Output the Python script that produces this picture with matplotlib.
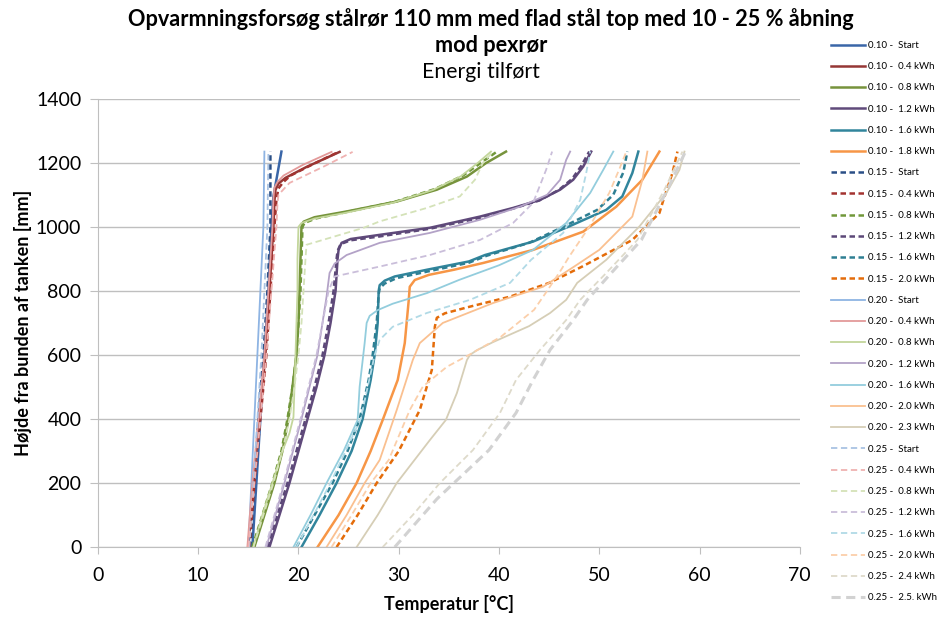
import matplotlib
matplotlib.use("Agg")
import matplotlib.pyplot as plt

plt.rcParams['font.family'] = ['Lato', 'DejaVu Sans']

# --- måledata: højde [mm] og temperatur [°C] pr. kurve ---
labels = [
    "0.10 -  Start", "0.10 -  0.4 kWh", "0.10 -  0.8 kWh", "0.10 -  1.2 kWh",
    "0.10 -  1.6 kWh", "0.10 -  1.8 kWh",
    "0.15 -  Start", "0.15 -  0.4 kWh", "0.15 -  0.8 kWh", "0.15 -  1.2 kWh",
    "0.15 -  1.6 kWh", "0.15 -  2.0 kWh",
    "0.20 -  Start", "0.20 -  0.4 kWh", "0.20 -  0.8 kWh", "0.20 -  1.2 kWh",
    "0.20 -  1.6 kWh", "0.20 -  2.0 kWh", "0.20 -  2.3 kWh",
    "0.25 -  Start", "0.25 -  0.4 kWh", "0.25 -  0.8 kWh", "0.25 -  1.2 kWh",
    "0.25 -  1.6 kWh", "0.25 -  2.0 kWh", "0.25 -  2.4 kWh", "0.25 -  2.5. kWh",
]

# 10 % åbning
h10_start = [0, 200, 400, 600, 800, 1000, 1095, 1235]
t10_start = [15.4, 15.8, 16.2, 16.6, 17.0, 17.3, 17.5, 18.3]
h10_04 = [0, 200, 400, 600, 800, 1000, 1080, 1115, 1135, 1153, 1187, 1234]
t10_04 = [15.0, 15.5, 16.1, 16.7, 17.1, 17.5, 17.6, 17.7, 18.0, 18.7, 20.8, 24.1]
h10_08 = [0, 100, 200, 300, 400, 500, 600, 700, 800, 900, 1000, 1016, 1030, 1048, 1079, 1116, 1157, 1199, 1235]
t10_08 = [15.6, 16.6, 17.6, 18.4, 19.0, 19.4, 19.8, 20.0, 20.1, 20.2, 20.3, 20.5, 21.6, 24.8, 29.8, 33.8, 36.8, 38.7, 40.7]
h10_12 = [0, 100, 200, 300, 400, 500, 600, 700, 800, 900, 928, 950, 962, 975, 997, 1032, 1059, 1084, 1116, 1147, 1188, 1235]
t10_12 = [17.1, 18.1, 19.1, 20.0, 20.9, 21.8, 22.6, 23.2, 23.7, 23.9, 24.0, 24.3, 25.2, 28.1, 33.1, 38.1, 41.4, 44.1, 46.1, 47.4, 48.4, 49.2]
h10_16 = [0, 100, 200, 300, 400, 522, 600, 700, 800, 818, 832, 845, 866, 892, 912, 954, 1000, 1053, 1095, 1168, 1235]
t10_16 = [20.3, 22.1, 23.8, 25.3, 26.4, 27.2, 27.6, 27.9, 28.0, 28.1, 28.6, 29.6, 32.8, 37.0, 38.6, 43.4, 46.9, 50.7, 52.3, 53.3, 53.9]
h10_18 = [0, 100, 200, 300, 397, 522, 637, 772, 813, 834, 850, 866, 887, 928, 985, 1063, 1147, 1235]
t10_18 = [21.9, 24.0, 25.8, 27.2, 28.4, 29.9, 30.6, 31.0, 31.1, 31.6, 33.0, 35.5, 38.4, 43.4, 48.4, 51.7, 54.3, 56.0]

# 15 % åbning
h15_start = [0, 200, 400, 600, 800, 1000, 1235]
t15_start = [15.2, 15.6, 16.0, 16.5, 16.9, 17.2, 17.2]
h15_04 = [0, 200, 400, 600, 800, 1000, 1085, 1120, 1140, 1160, 1195, 1234]
t15_04 = [15.1, 15.6, 16.2, 16.8, 17.2, 17.6, 17.8, 18.0, 18.5, 19.2, 21.4, 24.0]
h15_08 = [0, 100, 200, 300, 400, 500, 600, 700, 800, 900, 1000, 1012, 1026, 1045, 1078, 1118, 1160, 1200, 1235]
t15_08 = [15.4, 16.4, 17.4, 18.3, 18.9, 19.4, 19.8, 20.0, 20.2, 20.3, 20.4, 20.6, 21.7, 24.6, 29.6, 33.6, 36.4, 38.2, 39.8]
h15_12 = [0, 100, 200, 300, 400, 500, 600, 700, 800, 900, 925, 946, 958, 970, 994, 1028, 1057, 1082, 1116, 1150, 1190, 1235]
t15_12 = [16.9, 17.9, 18.9, 19.8, 20.7, 21.6, 22.4, 23.0, 23.5, 23.8, 23.9, 24.2, 25.2, 28.1, 33.1, 38.1, 41.4, 44.0, 46.0, 47.3, 48.2, 49.0]
h15_16 = [0, 100, 200, 300, 400, 522, 600, 700, 790, 808, 823, 840, 860, 888, 910, 950, 1000, 1053, 1100, 1170, 1235]
t15_16 = [19.8, 21.6, 23.4, 24.9, 26.1, 27.0, 27.4, 27.8, 28.0, 28.1, 28.6, 29.8, 32.8, 37.0, 38.8, 43.0, 46.4, 49.8, 51.4, 52.4, 52.8]
h15_20 = [0, 100, 200, 300, 428, 553, 688, 716, 730, 750, 782, 825, 876, 959, 1043, 1084, 1168, 1235]
t15_20 = [23.8, 25.9, 27.8, 30.0, 32.1, 33.3, 33.6, 33.8, 34.6, 37.0, 41.1, 45.0, 48.3, 53.3, 56.0, 56.4, 57.3, 57.8]

# 20 % åbning
h20_start = [0, 200, 400, 600, 800, 1000, 1235]
t20_start = [15.0, 15.3, 15.6, 15.9, 16.2, 16.5, 16.6]
h20_04 = [0, 200, 400, 600, 800, 1000, 1090, 1122, 1140, 1160, 1193, 1234]
t20_04 = [14.9, 15.4, 16.0, 16.6, 17.0, 17.4, 17.5, 17.6, 17.9, 18.5, 20.4, 23.3]
h20_08 = [0, 100, 200, 300, 356, 406, 500, 600, 700, 800, 900, 1000, 1012, 1026, 1042, 1075, 1115, 1158, 1200, 1235]
t20_08 = [15.5, 16.4, 17.4, 18.4, 19.1, 19.5, 19.6, 19.7, 19.8, 19.9, 19.9, 20.0, 20.3, 21.6, 24.4, 29.4, 33.4, 36.2, 37.9, 39.2]
h20_12 = [0, 200, 400, 600, 782, 856, 885, 912, 950, 981, 1022, 1063, 1100, 1147, 1209, 1235]
t20_12 = [16.8, 18.6, 20.3, 21.9, 22.8, 23.1, 23.6, 24.8, 28.1, 33.1, 38.1, 42.1, 44.8, 46.1, 46.7, 47.1]
h20_16 = [0, 100, 200, 300, 397, 501, 637, 700, 722, 740, 760, 793, 834, 880, 928, 1012, 1106, 1178, 1235]
t20_16 = [19.5, 21.2, 22.8, 24.5, 25.9, 26.1, 26.6, 26.8, 27.1, 27.9, 29.4, 32.8, 36.0, 40.0, 43.4, 46.7, 49.1, 50.4, 51.4]
h20_20 = [0, 100, 200, 272, 428, 584, 637, 700, 762, 813, 876, 928, 1032, 1147, 1235]
t20_20 = [22.8, 24.8, 26.6, 28.1, 29.8, 31.4, 32.1, 34.4, 39.4, 44.4, 47.5, 50.0, 53.3, 54.3, 54.8]
h20_23 = [0, 100, 200, 334, 397, 481, 584, 600, 615, 640, 690, 731, 772, 825, 897, 1001, 1106, 1178, 1235]
t20_23 = [25.8, 27.9, 29.8, 33.1, 34.7, 35.8, 36.8, 37.1, 37.8, 39.4, 43.0, 45.1, 46.7, 47.8, 50.7, 54.0, 56.7, 58.0, 58.5]

# 25 % åbning
h25_start = [0, 200, 400, 600, 800, 1000, 1235]
t25_start = [15.1, 15.5, 15.9, 16.3, 16.6, 16.9, 17.0]
h25_04 = [0, 200, 400, 600, 800, 1000, 1070, 1100, 1137, 1188, 1234]
t25_04 = [15.0, 15.6, 16.2, 16.8, 17.3, 17.8, 17.9, 18.0, 19.1, 22.5, 25.4]
h25_08 = [0, 100, 200, 300, 400, 500, 600, 700, 800, 900, 944, 997, 1017, 1059, 1095, 1147, 1200, 1235]
t25_08 = [15.5, 16.5, 17.5, 18.4, 19.1, 19.6, 20.0, 20.3, 20.5, 20.7, 20.8, 26.5, 28.1, 32.8, 36.1, 37.6, 38.4, 39.4]
h25_12 = [0, 200, 400, 600, 800, 845, 876, 912, 959, 1012, 1075, 1178, 1235]
t25_12 = [16.7, 18.5, 20.2, 21.8, 23.0, 23.6, 28.1, 33.1, 38.1, 41.4, 43.4, 44.7, 45.3]
h25_16 = [0, 200, 400, 600, 647, 688, 731, 772, 825, 897, 981, 1084, 1168, 1235]
t25_16 = [19.8, 23.2, 26.2, 27.6, 28.1, 29.4, 32.8, 37.1, 41.1, 43.2, 46.4, 48.1, 48.7, 49.1]
h25_20 = [0, 100, 200, 272, 428, 501, 563, 600, 657, 741, 800, 866, 907, 1000, 1106, 1180, 1235]
t25_20 = [23.3, 25.3, 27.2, 29.0, 31.1, 32.4, 34.8, 37.0, 40.2, 43.5, 44.8, 46.2, 47.0, 49.0, 51.0, 52.0, 52.7]
h25_24 = [0, 100, 200, 303, 419, 522, 616, 709, 772, 856, 959, 1116, 1235]
t25_24 = [28.4, 31.4, 34.1, 37.4, 40.1, 41.7, 44.1, 46.7, 48.1, 50.7, 53.8, 56.5, 58.3]
h25_25 = [0, 150, 303, 419, 522, 616, 709, 772, 856, 959, 1116, 1235]
t25_25 = [29.6, 33.8, 39.0, 41.7, 43.4, 45.1, 47.4, 48.8, 51.2, 54.2, 56.8, 58.6]

heights = [h10_start, h10_04, h10_08, h10_12, h10_16, h10_18,
           h15_start, h15_04, h15_08, h15_12, h15_16, h15_20,
           h20_start, h20_04, h20_08, h20_12, h20_16, h20_20, h20_23,
           h25_start, h25_04, h25_08, h25_12, h25_16, h25_20, h25_24, h25_25]
temps = [t10_start, t10_04, t10_08, t10_12, t10_16, t10_18,
         t15_start, t15_04, t15_08, t15_12, t15_16, t15_20,
         t20_start, t20_04, t20_08, t20_12, t20_16, t20_20, t20_23,
         t25_start, t25_04, t25_08, t25_12, t25_16, t25_20, t25_24, t25_25]

# farver og stregtyper
colors = ['#3A66A8', '#953735', '#77933C', '#604A7B', '#31859C', '#F79646',
          '#2A4F86', '#A33330', '#71983A', '#5C4878', '#2E7F93', '#E46C0A',
          '#8EB4E3', '#E39A9A', '#C3D69B', '#B3A2C7', '#93CDDD', '#FAC090', '#D6CEB6',
          '#A9C3E3', '#EFB2B1', '#D4E2B8', '#CABEDA', '#B1DAE6', '#FBCFAA', '#DEDACA', '#D2D2D2']
styles = (['-'] * 6 + [(0, (2.2, 1.4))] * 6 + ['-'] * 7 + [(0, (3.5, 2))] * 7 + [(0, (3, 1.8))])
widths = [1.8] * 6 + [1.8] * 6 + [1.3] * 7 + [1.3] * 7 + [2.2]

fig = plt.figure(figsize=(9.42, 6.21), dpi=100)
ax = fig.add_axes([0.104, 0.119, 0.745, 0.722])

for h, t, lab, c, ls, lw in zip(heights, temps, labels, colors, styles, widths):
    ax.plot(t, h, color=c, linestyle=ls, linewidth=lw, label=lab)

ax.set_xlim(0, 70)
ax.set_ylim(0, 1400)
ax.set_xticks(range(0, 71, 10))
ax.set_yticks(range(0, 1401, 200))
ax.yaxis.grid(True, color='#BFBFBF', linewidth=1.0)
ax.set_axisbelow(True)
for side in ['top', 'right']:
    ax.spines[side].set_visible(False)
ax.spines['bottom'].set_color('#BFBFBF')
ax.spines['left'].set_color('#BFBFBF')
ax.tick_params(axis='x', length=5, color='#BFBFBF', labelsize=14, pad=9)
ax.tick_params(axis='y', length=6, color='#BFBFBF', labelsize=14, pad=6)

ax.set_xlabel('Temperatur [°C]', fontsize=13, fontweight='bold', labelpad=8)
ax.set_ylabel('Højde fra bunden af tanken [mm]', fontsize=13, fontweight='bold', labelpad=3)

fig.text(0.521, 0.97, 'Opvarmningsforsøg stålrør 110 mm med flad stål top med 10 - 25 % åbning',
         ha='center', va='center', fontsize=15.6, fontweight='bold')
fig.text(0.521, 0.927, 'mod pexrør', ha='center', va='center', fontsize=15.6, fontweight='bold')
fig.text(0.511, 0.884, 'Energi tilført', ha='center', va='center', fontsize=15.3)

fig.legend(loc='upper left', bbox_to_anchor=(0.882, 0.934), frameon=False,
           fontsize=7.0, handlelength=3.5, handletextpad=0.3, labelspacing=1.26,
           borderaxespad=0, borderpad=0)

fig.savefig('out.png', dpi=100)
